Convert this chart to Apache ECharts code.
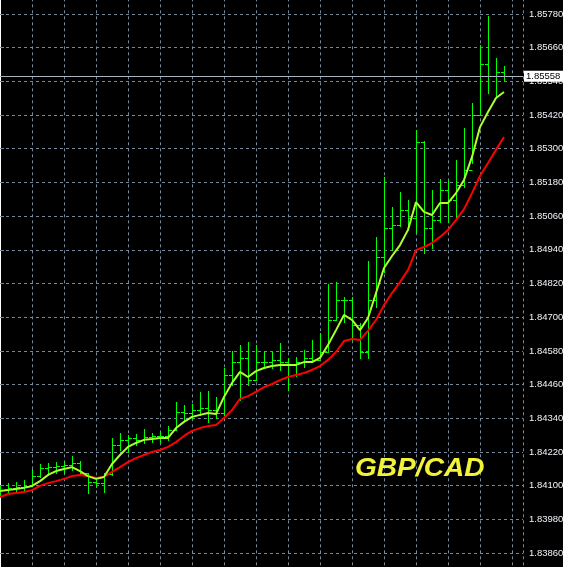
<!DOCTYPE html>
<html>
<head>
<meta charset="utf-8">
<script src="https://cdn.jsdelivr.net/npm/echarts@6/dist/echarts.min.js"></script>
<style>
html,body{margin:0;padding:0;background:#000;}
#chart{width:563px;height:567px;}
</style>
</head>
<body>
<div id="chart"></div>
<script>
// Bar index (one bar per period)
const barIndex = Array.from({length: 64}, (_, i) => i);

const opens = [
1.84077,1.84084,1.84092,1.84095,1.84099,1.84134,1.84163,1.84166,1.84170,1.84173,
1.84181,1.84145,1.84113,1.84109,1.84141,1.84245,1.84263,1.84270,1.84263,1.84273,
1.84277,1.84277,1.84298,1.84362,1.84359,1.84369,1.84377,1.84369,1.84359,1.84494,
1.84540,1.84555,1.84476,1.84540,1.84540,1.84548,1.84540,1.84530,1.84540,1.84555,
1.84548,1.84576,1.84690,1.84761,1.84761,1.84672,1.84576,1.84761,1.84914,1.85018,
1.85028,1.85082,1.85053,1.85324,1.85018,1.85046,1.85153,1.85117,1.85171,1.85224,
1.85420,1.85602,1.85559,1.85573];

const highs = [
1.84099,1.84109,1.84113,1.84120,1.84159,1.84177,1.84181,1.84184,1.84188,1.84206,
1.84188,1.84145,1.84127,1.84145,1.84270,1.84287,1.84280,1.84284,1.84302,1.84287,
1.84295,1.84312,1.84398,1.84387,1.84391,1.84434,1.84437,1.84416,1.84519,1.84580,
1.84601,1.84612,1.84601,1.84580,1.84576,1.84608,1.84555,1.84558,1.84583,1.84619,
1.84644,1.84818,1.84825,1.84772,1.84772,1.84679,1.84900,1.84986,1.85199,1.85093,
1.85146,1.85117,1.85367,1.85328,1.85153,1.85192,1.85189,1.85260,1.85374,1.85463,
1.85670,1.85773,1.85623,1.85595];

const lows = [
1.84063,1.84074,1.84077,1.84084,1.84099,1.84131,1.84138,1.84145,1.84145,1.84156,
1.84145,1.84074,1.84095,1.84077,1.84138,1.84227,1.84220,1.84245,1.84252,1.84255,
1.84255,1.84263,1.84298,1.84330,1.84341,1.84352,1.84327,1.84341,1.84352,1.84458,
1.84405,1.84458,1.84476,1.84519,1.84519,1.84512,1.84441,1.84491,1.84523,1.84540,
1.84565,1.84576,1.84690,1.84683,1.84619,1.84555,1.84555,1.84736,1.84861,1.84939,
1.85025,1.85011,1.85003,1.84929,1.84946,1.85039,1.85039,1.85053,1.85164,1.85249,
1.85420,1.85499,1.85484,1.85545];

const closes = [
1.84084,1.84092,1.84095,1.84099,1.84134,1.84163,1.84166,1.84170,1.84173,1.84181,
1.84145,1.84113,1.84109,1.84141,1.84245,1.84263,1.84270,1.84263,1.84273,1.84277,
1.84277,1.84298,1.84362,1.84359,1.84369,1.84377,1.84369,1.84359,1.84494,1.84540,
1.84555,1.84476,1.84540,1.84540,1.84548,1.84540,1.84530,1.84540,1.84555,1.84548,
1.84576,1.84690,1.84761,1.84761,1.84672,1.84576,1.84761,1.84914,1.85018,1.85028,
1.85082,1.85053,1.85324,1.85018,1.85046,1.85153,1.85117,1.85171,1.85224,1.85420,
1.85602,1.85559,1.85573,1.85558];

const fastMA = [
1.84081,1.84084,1.84088,1.84092,1.84099,1.84116,1.84138,1.84152,1.84159,1.84166,
1.84152,1.84134,1.84124,1.84131,1.84177,1.84209,1.84238,1.84252,1.84263,1.84266,
1.84270,1.84270,1.84305,1.84327,1.84345,1.84352,1.84359,1.84355,1.84416,1.84466,
1.84505,1.84487,1.84508,1.84519,1.84526,1.84530,1.84530,1.84530,1.84540,1.84540,
1.84555,1.84601,1.84654,1.84708,1.84690,1.84654,1.84697,1.84786,1.84875,1.84918,
1.84957,1.85011,1.85110,1.85075,1.85064,1.85107,1.85107,1.85142,1.85189,1.85271,
1.85377,1.85431,1.85481,1.85502];

const slowMA = [
1.84059,1.84070,1.84074,1.84077,1.84084,1.84099,1.84109,1.84116,1.84124,1.84134,
1.84138,1.84134,1.84127,1.84131,1.84149,1.84166,1.84184,1.84198,1.84209,1.84220,
1.84227,1.84238,1.84255,1.84277,1.84295,1.84305,1.84312,1.84316,1.84341,1.84369,
1.84409,1.84419,1.84434,1.84451,1.84462,1.84476,1.84487,1.84494,1.84501,1.84512,
1.84526,1.84548,1.84576,1.84615,1.84622,1.84619,1.84651,1.84690,1.84743,1.84786,
1.84825,1.84868,1.84939,1.84950,1.84964,1.84986,1.85011,1.85046,1.85085,1.85142,
1.85203,1.85249,1.85296,1.85342];

const currentPrice = 1.85558;
const symbolName = 'GBP/CAD';

// Y-axis tick labels run 1.83860 ... 1.85780 step 0.0012 (one extra step hidden off-canvas at each end)
const yMin = 1.83740, yMax = 1.85900, yStep = 0.0012;

const ohlc = barIndex.map((k, i) => [k, opens[i], closes[i], lows[i], highs[i]]);
const fastData = barIndex.map((k, i) => [k, fastMA[i]]);
const slowData = barIndex.map((k, i) => [k, slowMA[i]]);

function renderBar(params, api) {
  const x = Math.round(api.coord([api.value(0), 0])[0]) + 0.5;
  const yo = Math.round(api.coord([0, api.value(1)])[1]) + 0.5;
  const yc = Math.round(api.coord([0, api.value(2)])[1]) + 0.5;
  const yl = Math.round(api.coord([0, api.value(3)])[1]) + 0.5;
  const yh = Math.round(api.coord([0, api.value(4)])[1]) + 0.5;
  const st = {stroke: '#00ff00', lineWidth: 1, opacity: 1};
  return {
    type: 'group',
    children: [
      {type: 'line', shape: {x1: x, y1: yh - 0.5, x2: x, y2: yl + 0.5}, style: st},
      {type: 'line', shape: {x1: x - 3.5, y1: yo, x2: x, y2: yo}, style: st},
      {type: 'line', shape: {x1: x, y1: yc, x2: x + 3.5, y2: yc}, style: st}
    ]
  };
}

const chart = echarts.init(document.getElementById('chart'), null, {renderer: 'canvas'});
chart.setOption({
  backgroundColor: '#000000',
  animation: false,
  grid: {
    left: 0, right: 40, top: -19.6875, bottom: -19.6875,
    containLabel: false, outerBoundsMode: 'none'
  },
  xAxis: {
    type: 'value', min: 0, max: 65.375, interval: 4,
    axisLine: {show: false}, axisTick: {show: false}, axisLabel: {show: false},
    splitLine: {show: true, lineStyle: {color: '#778899', type: [3, 3], width: 1}}
  },
  yAxis: {
    type: 'value', position: 'right', min: yMin, max: yMax, interval: yStep,
    axisLine: {show: true, lineStyle: {color: '#ffffff', width: 1}},
    axisTick: {show: true, length: 4, lineStyle: {color: '#778899'}},
    axisLabel: {
      color: '#f0f4f8', fontSize: 9.5, fontFamily: 'Liberation Sans', margin: 6,
      formatter: v => v.toFixed(5)
    },
    splitLine: {show: true, lineStyle: {color: '#778899', type: [3, 3], width: 1}}
  },
  series: [
    {
      type: 'custom', renderItem: renderBar, data: ohlc,
      encode: {x: 0, y: [1, 2, 3, 4]}, z: 2, clip: false
    },
    {
      type: 'line', data: slowData, showSymbol: false, z: 3,
      lineStyle: {color: '#ff0000', width: 2}, itemStyle: {color: '#ff0000'}
    },
    {
      type: 'line', data: fastData, showSymbol: false, z: 4,
      lineStyle: {color: '#adff2f', width: 2}, itemStyle: {color: '#adff2f'},
      markLine: {
        silent: true, symbol: 'none', animation: false, precision: 5,
        lineStyle: {color: '#aab4c2', type: 'solid', width: 1},
        data: [{yAxis: currentPrice}],
        label: {
          show: true, position: 'end', distance: 1,
          formatter: () => currentPrice.toFixed(5),
          backgroundColor: '#ffffff', color: '#000000',
          fontSize: 9.5, fontFamily: 'Liberation Sans',
          padding: [1, 3, 0, 2]
        }
      }
    }
  ],
  graphic: [{
    type: 'text', x: 355, y: 456, scaleX: 1.08, z: 10,
    style: {
      text: symbolName, fill: '#f2f23a',
      font: 'italic bold 26px "Liberation Sans"'
    }
  }]
});
</script>
</body>
</html>
